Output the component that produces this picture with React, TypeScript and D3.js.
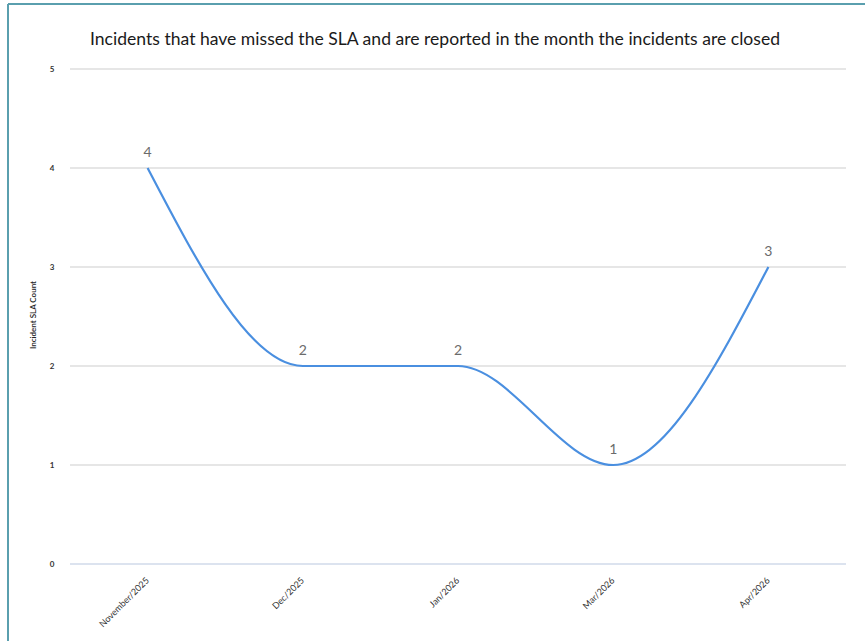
import React from "react";
import * as d3 from "d3";

const months = ["November/2025", "Dec/2025", "Jan/2026", "Mar/2026", "Apr/2026"];
const counts = [4, 2, 2, 1, 3];
const yTicks = [0, 1, 2, 3, 4, 5];

const title = "Incidents that have missed the SLA and are reported in the month the incidents are closed";
const yLabel = "Incident SLA Count";

export default function App() {
  const width = 865, height = 641;
  const left = 70, right = 846, top = 69, bottom = 564;

  const x = d3.scalePoint<string>().domain(months).range([left, right]).padding(0.5);
  const y = d3.scaleLinear().domain([0, 5]).range([bottom, top]);

  const line = d3.line<number>()
    .x((d, i) => x(months[i]) as number)
    .y(d => y(d))
    .curve(d3.curveMonotoneX);

  const font = "Lato, 'Open Sans', sans-serif";

  return (
    <svg width={width} height={height} style={{ position: "absolute", left: 0, top: 0, background: "#fff" }}>
      <line x1={8} x2={width} y1={4} y2={4} stroke="#5a9fae" strokeWidth={2} />
      <line x1={8} x2={8} y1={4} y2={height} stroke="#5a9fae" strokeWidth={2} />

      <text x={435} y={45} textAnchor="middle" fontFamily={font} fontSize={17.5}
        textLength={690} lengthAdjust="spacingAndGlyphs" fill="#1a1a1a">
        {title}
      </text>

      {yTicks.map(t => (
        <g key={t}>
          <line x1={left} x2={right} y1={y(t)} y2={y(t)}
            stroke={t === 0 ? "#dce3ef" : "#e6e6e6"} strokeWidth={2} />
          <text x={52} y={y(t) + 3} textAnchor="middle" fontFamily={font} fontWeight="bold"
            fontSize={8} fill="#333">{t}</text>
        </g>
      ))}

      <text transform={`translate(36,315) rotate(-90)`} textAnchor="middle" fontFamily={font}
        fontSize={8} fontWeight={600} fill="#222">{yLabel}</text>

      {months.map(m => (
        <text key={m} transform={`translate(${(x(m) as number) + 2},${bottom + 17}) rotate(-45)`}
          textAnchor="end" fontFamily={font} fontSize={9} fill="#333">{m}</text>
      ))}

      <path d={line(counts) || ""} fill="none" stroke="#4a8fe0" strokeWidth={2.2} />

      {counts.map((c, i) => (
        <text key={i} x={x(months[i]) as number} y={y(c) - 11} textAnchor="middle"
          fontFamily={font} fontSize={14} fill="#6b6b6b">{c}</text>
      ))}
    </svg>
  );
}
